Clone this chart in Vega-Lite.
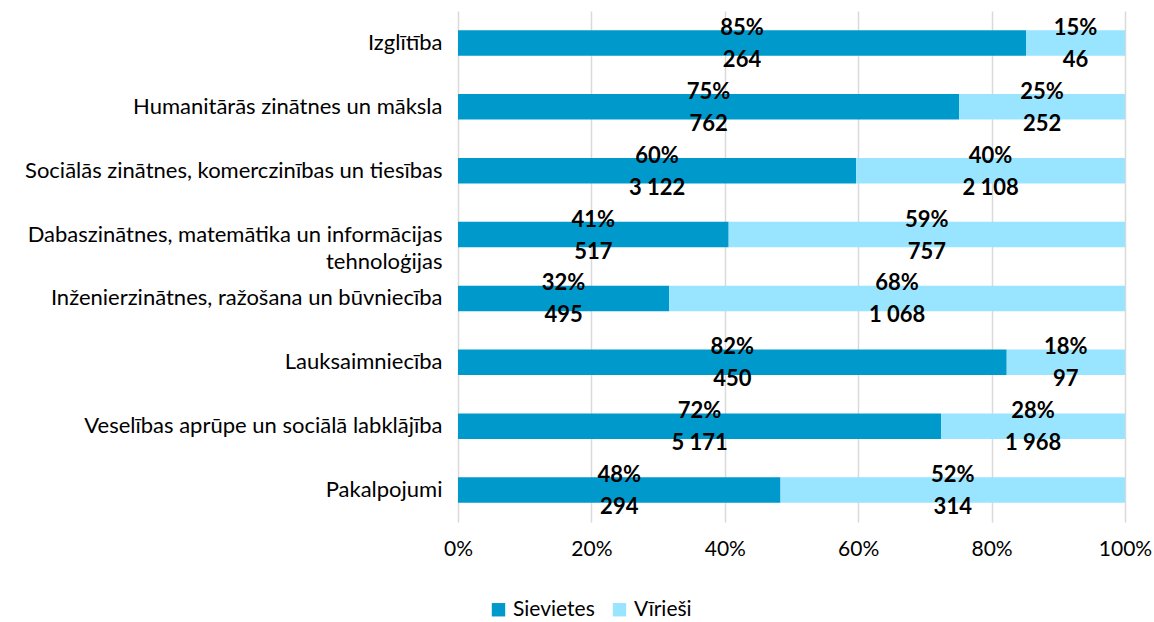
{
  "$schema": "https://vega.github.io/schema/vega-lite/v6.json",
  "width": 667,
  "height": 511,
  "autosize": {"type": "none"},
  "padding": {"left": 458, "top": 11, "right": 29, "bottom": 100},
  "background": "white",
  "config": {
    "view": {"stroke": null},
    "font": "Lato",
    "locale": {"number": {"decimal": ",", "thousands": "\u00a0", "grouping": [3], "currency": ["", " €"]}}
  },
  "data": {
    "values": [
      {"category": "Izglītība", "sex": "Sievietes", "count": 264},
      {"category": "Izglītība", "sex": "Vīrieši", "count": 46},
      {"category": "Humanitārās zinātnes un māksla", "sex": "Sievietes", "count": 762},
      {"category": "Humanitārās zinātnes un māksla", "sex": "Vīrieši", "count": 252},
      {"category": "Sociālās zinātnes, komerczinības un tiesības", "sex": "Sievietes", "count": 3122},
      {"category": "Sociālās zinātnes, komerczinības un tiesības", "sex": "Vīrieši", "count": 2108},
      {"category": "Dabaszinātnes, matemātika un informācijas tehnoloģijas", "sex": "Sievietes", "count": 517},
      {"category": "Dabaszinātnes, matemātika un informācijas tehnoloģijas", "sex": "Vīrieši", "count": 757},
      {"category": "Inženierzinātnes, ražošana un būvniecība", "sex": "Sievietes", "count": 495},
      {"category": "Inženierzinātnes, ražošana un būvniecība", "sex": "Vīrieši", "count": 1068},
      {"category": "Lauksaimniecība", "sex": "Sievietes", "count": 450},
      {"category": "Lauksaimniecība", "sex": "Vīrieši", "count": 97},
      {"category": "Veselības aprūpe un sociālā labklājība", "sex": "Sievietes", "count": 5171},
      {"category": "Veselības aprūpe un sociālā labklājība", "sex": "Vīrieši", "count": 1968},
      {"category": "Pakalpojumi", "sex": "Sievietes", "count": 294},
      {"category": "Pakalpojumi", "sex": "Vīrieši", "count": 314}
    ]
  },
  "transform": [
    {"stack": "count", "groupby": ["category"], "offset": "normalize", "sort": [{"field": "sex", "order": "ascending"}], "as": ["x0", "x1"]},
    {"calculate": "(datum.x0 + datum.x1) / 2", "as": "mid"},
    {"calculate": "datum.x1 - datum.x0", "as": "pct"}
  ],
  "encoding": {
    "y": {
      "field": "category",
      "type": "nominal",
      "sort": null,
      "title": null,
      "scale": {"paddingInner": 0.6, "paddingOuter": 0.3},
      "axis": {
        "domain": false,
        "ticks": false,
        "labelPadding": 16,
        "labelFontSize": 22,
        "labelColor": "#000000",
        "labelLimit": 600,
        "labelLineHeight": 27,
        "labelExpr": "datum.value == 'Dabaszinātnes, matemātika un informācijas tehnoloģijas' ? ['Dabaszinātnes, matemātika un informācijas', 'tehnoloģijas'] : datum.value"
      }
    }
  },
  "layer": [
    {
      "mark": {"type": "bar"},
      "encoding": {
        "x": {
          "field": "x0",
          "type": "quantitative",
          "scale": {"domain": [0, 1], "nice": false},
          "title": null,
          "axis": {
            "format": ".0%",
            "values": [0, 0.2, 0.4, 0.6, 0.8, 1],
            "domain": false,
            "ticks": false,
            "grid": true,
            "gridColor": "#D9D9D9",
            "gridWidth": 1.5,
            "labelFontSize": 21,
            "labelColor": "#000000",
            "labelPadding": 16,
            "labelFlush": false
          }
        },
        "x2": {"field": "x1"},
        "color": {
          "field": "sex",
          "type": "nominal",
          "scale": {"domain": ["Sievietes", "Vīrieši"], "range": ["#0099CC", "#99E4FF"]},
          "legend": {
            "title": null,
            "orient": "none",
            "direction": "horizontal",
            "legendX": 30,
            "legendY": 588,
            "symbolType": "square",
            "symbolSize": 180,
            "symbolStrokeWidth": 0,
            "labelFontSize": 21,
            "labelColor": "#000000",
            "columnPadding": 14,
            "labelOffset": 4
          }
        }
      }
    },
    {
      "mark": {"type": "text", "fontWeight": "bold", "fontSize": 22, "color": "#000000", "baseline": "middle", "dy": -15},
      "encoding": {
        "x": {"field": "mid", "type": "quantitative"},
        "text": {"field": "pct", "type": "quantitative", "format": ".0%"}
      }
    },
    {
      "mark": {"type": "text", "fontWeight": "bold", "fontSize": 22, "color": "#000000", "baseline": "middle", "dy": 17},
      "encoding": {
        "x": {"field": "mid", "type": "quantitative"},
        "text": {"field": "count", "type": "quantitative", "format": ","}
      }
    }
  ]
}
